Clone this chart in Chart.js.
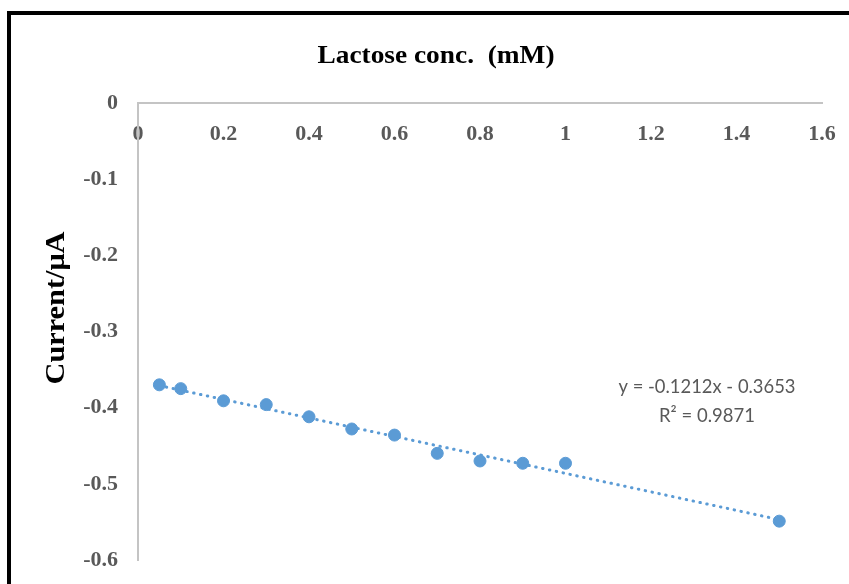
<!DOCTYPE html>
<html>
<head>
<meta charset="utf-8">
<script src="https://cdn.jsdelivr.net/npm/chart.js@4"></script>
<style>
  body { margin: 0; background: #fff; }
  #wrap { position: relative; width: 849px; height: 584px; overflow: hidden; }
  #frame { position: absolute; left: 7px; top: 11px; width: 900px; height: 700px;
           border-top: 4px solid #000; border-left: 4px solid #000; pointer-events: none; }
  canvas { position: absolute; left: 0; top: 0; }
</style>
</head>
<body>
<div id="wrap">
  <canvas id="chart" width="849" height="584"></canvas>
  <div id="frame"></div>
</div>
<script>
// data
const concX = [0.05, 0.1, 0.2, 0.3, 0.4, 0.5, 0.6, 0.7, 0.8, 0.9, 1.0, 1.5];
const currentY = [-0.370, -0.375, -0.391, -0.396, -0.412, -0.428, -0.436, -0.460, -0.470, -0.473, -0.473, -0.549];
const trendX = [0.05, 1.5];
const trendY = [-0.371, -0.547];
const xTickLabels = ["0", "0.2", "0.4", "0.6", "0.8", "1", "1.2", "1.4", "1.6"];
const yTickLabels = ["-0.6", "-0.5", "-0.4", "-0.3", "-0.2", "-0.1", "0"];
const xTitle = "Lactose conc.  (mM)";
const yTitle = "Current/\u03bcA";
const equation = ["y = -0.1212x - 0.3653", "R\u00b2 = 0.9871"];

const blue = "#5b9bd5";
const tickColor = "#595959";

function pts(xs, ys) {
  return xs.map((x, i) => ({ x: x, y: ys[i] }));
}

// draw text squeezed/stretched to a given width
function fitText(ctx, text, cx, cy, width, font, color, rot) {
  ctx.save();
  ctx.font = font;
  ctx.fillStyle = color;
  ctx.textAlign = "center";
  ctx.textBaseline = "middle";
  const w = ctx.measureText(text).width;
  ctx.translate(cx, cy);
  if (rot) ctx.rotate(rot);
  ctx.scale(width / w, 1);
  ctx.fillText(text, 0, 0);
  ctx.restore();
}

const textPlugin = {
  id: "texts",
  afterDraw(chart) {
    const ctx = chart.ctx;
    fitText(ctx, xTitle, 436, 56, 237, "bold 26px 'Liberation Serif'", "#000");
    fitText(ctx, yTitle, 57, 308, 153, "bold 27px 'Liberation Serif'", "#000", -Math.PI / 2);
    fitText(ctx, equation[0], 707, 387, 177, "20px Lato", tickColor);
    fitText(ctx, equation[1], 707, 416, 96, "20px Lato", tickColor);
  }
};

const tickFont = { family: "'Liberation Serif'", size: 22, weight: "bold" };

function noPad(s) {
  s.paddingLeft = 0;
  s.paddingRight = 0;
  s.paddingTop = 0;
  s.paddingBottom = 0;
}

new Chart(document.getElementById("chart"), {
  type: "scatter",
  data: {
    datasets: [
      {
        label: "Current",
        data: pts(concX, currentY),
        backgroundColor: blue,
        borderColor: blue,
        pointRadius: 6,
        pointHoverRadius: 6,
        showLine: false,
      },
      {
        label: "Linear",
        data: pts(trendX, trendY),
        showLine: true,
        pointRadius: 0,
        borderColor: blue,
        borderWidth: 3,
        borderDash: [0.5, 6.5],
        borderCapStyle: "round",
        fill: false,
      },
    ],
  },
  options: {
    responsive: false,
    animation: false,
    events: [],
    layout: { padding: { left: 0, top: 103, right: 27, bottom: 24 } },
    plugins: { legend: { display: false }, tooltip: { enabled: false } },
    scales: {
      x: {
        type: "linear",
        position: { y: 0 },
        min: 0,
        max: 1.6,
        afterFit: noPad,
        grid: { display: false, drawTicks: false },
        border: { display: true, color: "#c4c4c4", width: 2 },
        ticks: {
          stepSize: 0.2,
          autoSkip: false,
          maxRotation: 0,
          padding: 18,
          color: tickColor,
          font: tickFont,
          callback: (v, i) => xTickLabels[i],
        },
      },
      y: {
        type: "linear",
        min: -0.6,
        max: 0,
        afterFit: (s) => { s.width = 138; noPad(s); },
        grid: { display: false, drawTicks: false },
        border: { display: true, color: "#c4c4c4", width: 2 },
        ticks: {
          stepSize: 0.1,
          padding: 20,
          color: tickColor,
          font: tickFont,
          callback: (v, i) => yTickLabels[i],
        },
      },
    },
  },
  plugins: [textPlugin],
});
</script>
</body>
</html>
